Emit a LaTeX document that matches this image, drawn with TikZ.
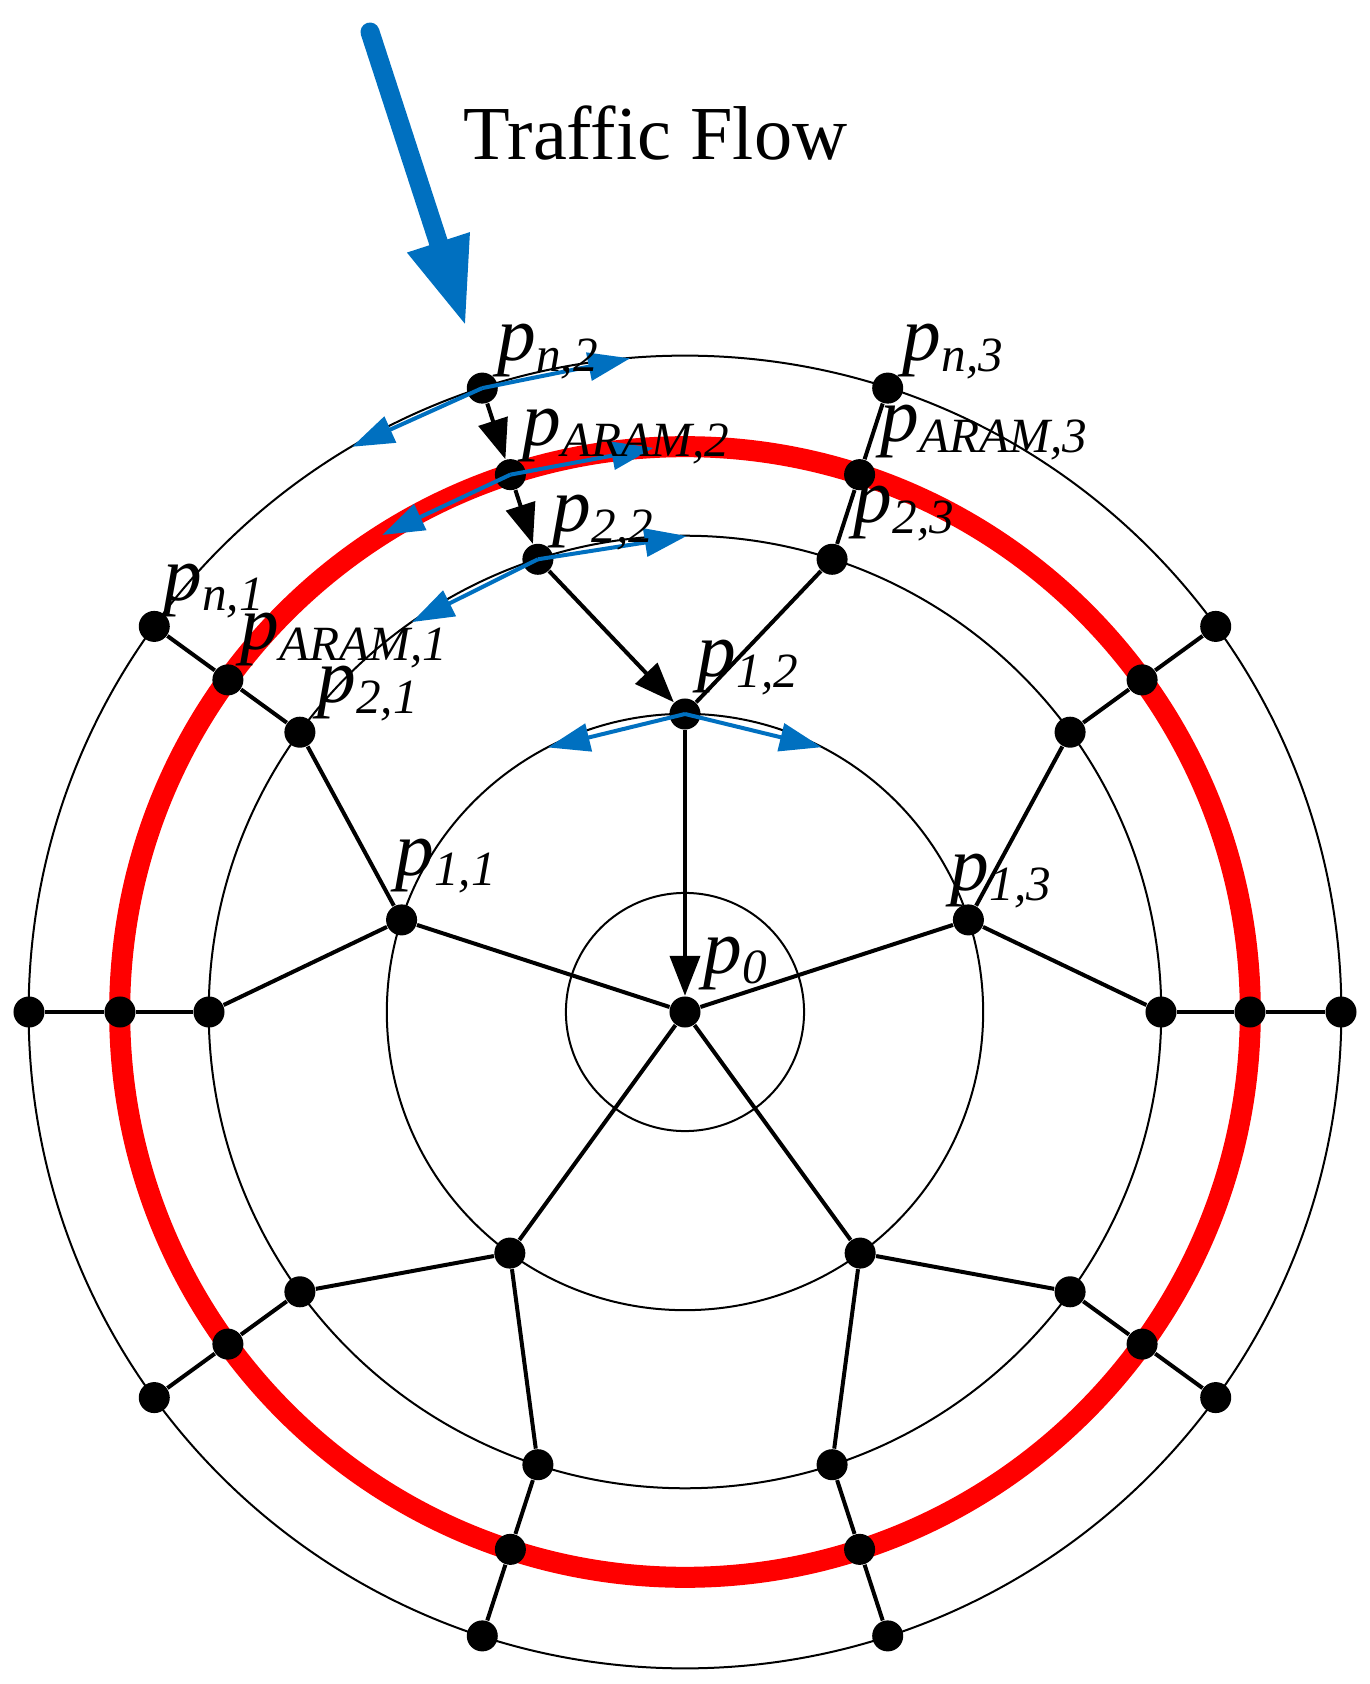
\documentclass[tikz,border=0pt]{standalone}
\usepackage{fontspec}
\setmainfont{Liberation Serif}
\usetikzlibrary{arrows.meta}
\definecolor{flowblue}{RGB}{0,112,192}
\newcommand\plab[1]{{\fontsize{22}{22}\selectfont\itshape p}\raisebox{-3.1pt}{\fontsize{14}{14}\selectfont\itshape #1}}
\begin{document}
\begin{tikzpicture}[x=0.01cm,y=0.01cm,
  dot/.style={circle,fill=black,inner sep=0pt,minimum size=0.31cm},
  ring/.style={line width=0.02cm},
  redring/.style={line width=0.21cm,red},
  edge/.style={line width=0.04cm},
  flowedge/.style={line width=0.04cm,-{Triangle[length=0.4cm,width=0.3cm]}},
  bluearc/.style={line width=0.04cm,flowblue,-{Triangle[length=0.42cm,width=0.28cm]}},
  lbl/.style={anchor=base west,inner sep=0pt}]
\useasboundingbox (-685,-672) rectangle (684,1012);
% rings
\draw[ring] (0,0) circle[radius=1.19cm];
\draw[ring] (0,0) circle[radius=2.98cm];
\draw[ring] (0,0) circle[radius=4.76cm];
\draw[ring] (0,0) circle[radius=6.56cm];
\draw[redring] (0,0) circle[radius=5.65cm];
% nodes
\node[dot] (n0) at (0,0) {};
\foreach \j in {0,...,4} {
  \node[dot] (q\j) at ({18+72*\j}:298) {};
}
\foreach \k in {0,...,9} {
  \node[dot] (a\k) at ({36*\k}:476) {};
  \node[dot] (b\k) at ({36*\k}:565) {};
  \node[dot] (c\k) at ({36*\k}:656) {};
}
% plain edges
\foreach \j in {0,2,3,4} { \draw[edge] (n0) -- (q\j); }
\foreach \j/\u in {0/0,1/2,2/4,3/6,4/8} {
  \draw[edge] (q\j) -- (a\u);
}
\foreach \j/\v in {0/1,2/5,3/7,4/9} { \draw[edge] (q\j) -- (a\v); }
\foreach \k in {0,1,2,4,5,6,7,8,9} {
  \draw[edge] (a\k) -- (b\k);
  \draw[edge] (b\k) -- (c\k);
}
% flow edges
\draw[flowedge] (c3) -- (b3);
\draw[flowedge] (b3) -- (a3);
\draw[flowedge] (a3) -- (q1);
\draw[flowedge] (q1) -- (n0);
% blue chord arrows
\coordinate (cR) at (94.8:656);
\coordinate (cL) at (120.5:656);
\coordinate (bR) at (93.2:565);
\coordinate (bL) at (122.4:565);
\coordinate (aR) at (89.8:476);
\coordinate (aL) at (125:476);
\coordinate (qR) at (62.7:298);
\coordinate (qL) at (117.4:298);
\draw[bluearc] (c3.center) -- (cR);
\draw[bluearc] (c3.center) -- (cL);
\draw[bluearc] (b3.center) -- (bR);
\draw[bluearc] (b3.center) -- (bL);
\draw[bluearc] (a3.center) -- (aR);
\draw[bluearc] (a3.center) -- (aL);
\draw[bluearc] (q1.center) -- (qR);
\draw[bluearc] (q1.center) -- (qL);
% traffic flow arrow
\coordinate (fs) at (-315,980);
\coordinate (ft) at (-219,685);
\draw[line width=0.19cm,flowblue,line cap=round,-{Triangle[length=0.89cm,width=0.6cm]}] (fs) -- (ft);
\node[lbl] (tf) at (-222,852) {\fontsize{21.7}{21.7}\selectfont Traffic Flow};
% labels
\node[lbl] (Ln2) at (-188,651) {\plab{n,2}};
\node[lbl] (La2) at (-163,566) {\plab{ARAM,2}};
\node[lbl] (L22) at (-133,480) {\plab{2,2}};
\node[lbl] (L12) at (12,335) {\plab{1,2}};
\node[lbl] (Ln1) at (-522,412) {\plab{n,1}};
\node[lbl] (La1) at (-445,362) {\plab{ARAM,1}};
\node[lbl] (L21) at (-368,309) {\plab{2,1}};
\node[lbl] (Ln3) at (217,651) {\plab{n,3}};
\node[lbl] (La3) at (195,570) {\plab{ARAM,3}};
\node[lbl] (L23) at (168,489) {\plab{2,3}};
\node[lbl] (L11) at (-290,137) {\plab{1,1}};
\node[lbl] (L13) at (265,122) {\plab{1,3}};
\node[lbl] (L0) at (18,39) {\plab{0}};
\end{tikzpicture}
\end{document}
